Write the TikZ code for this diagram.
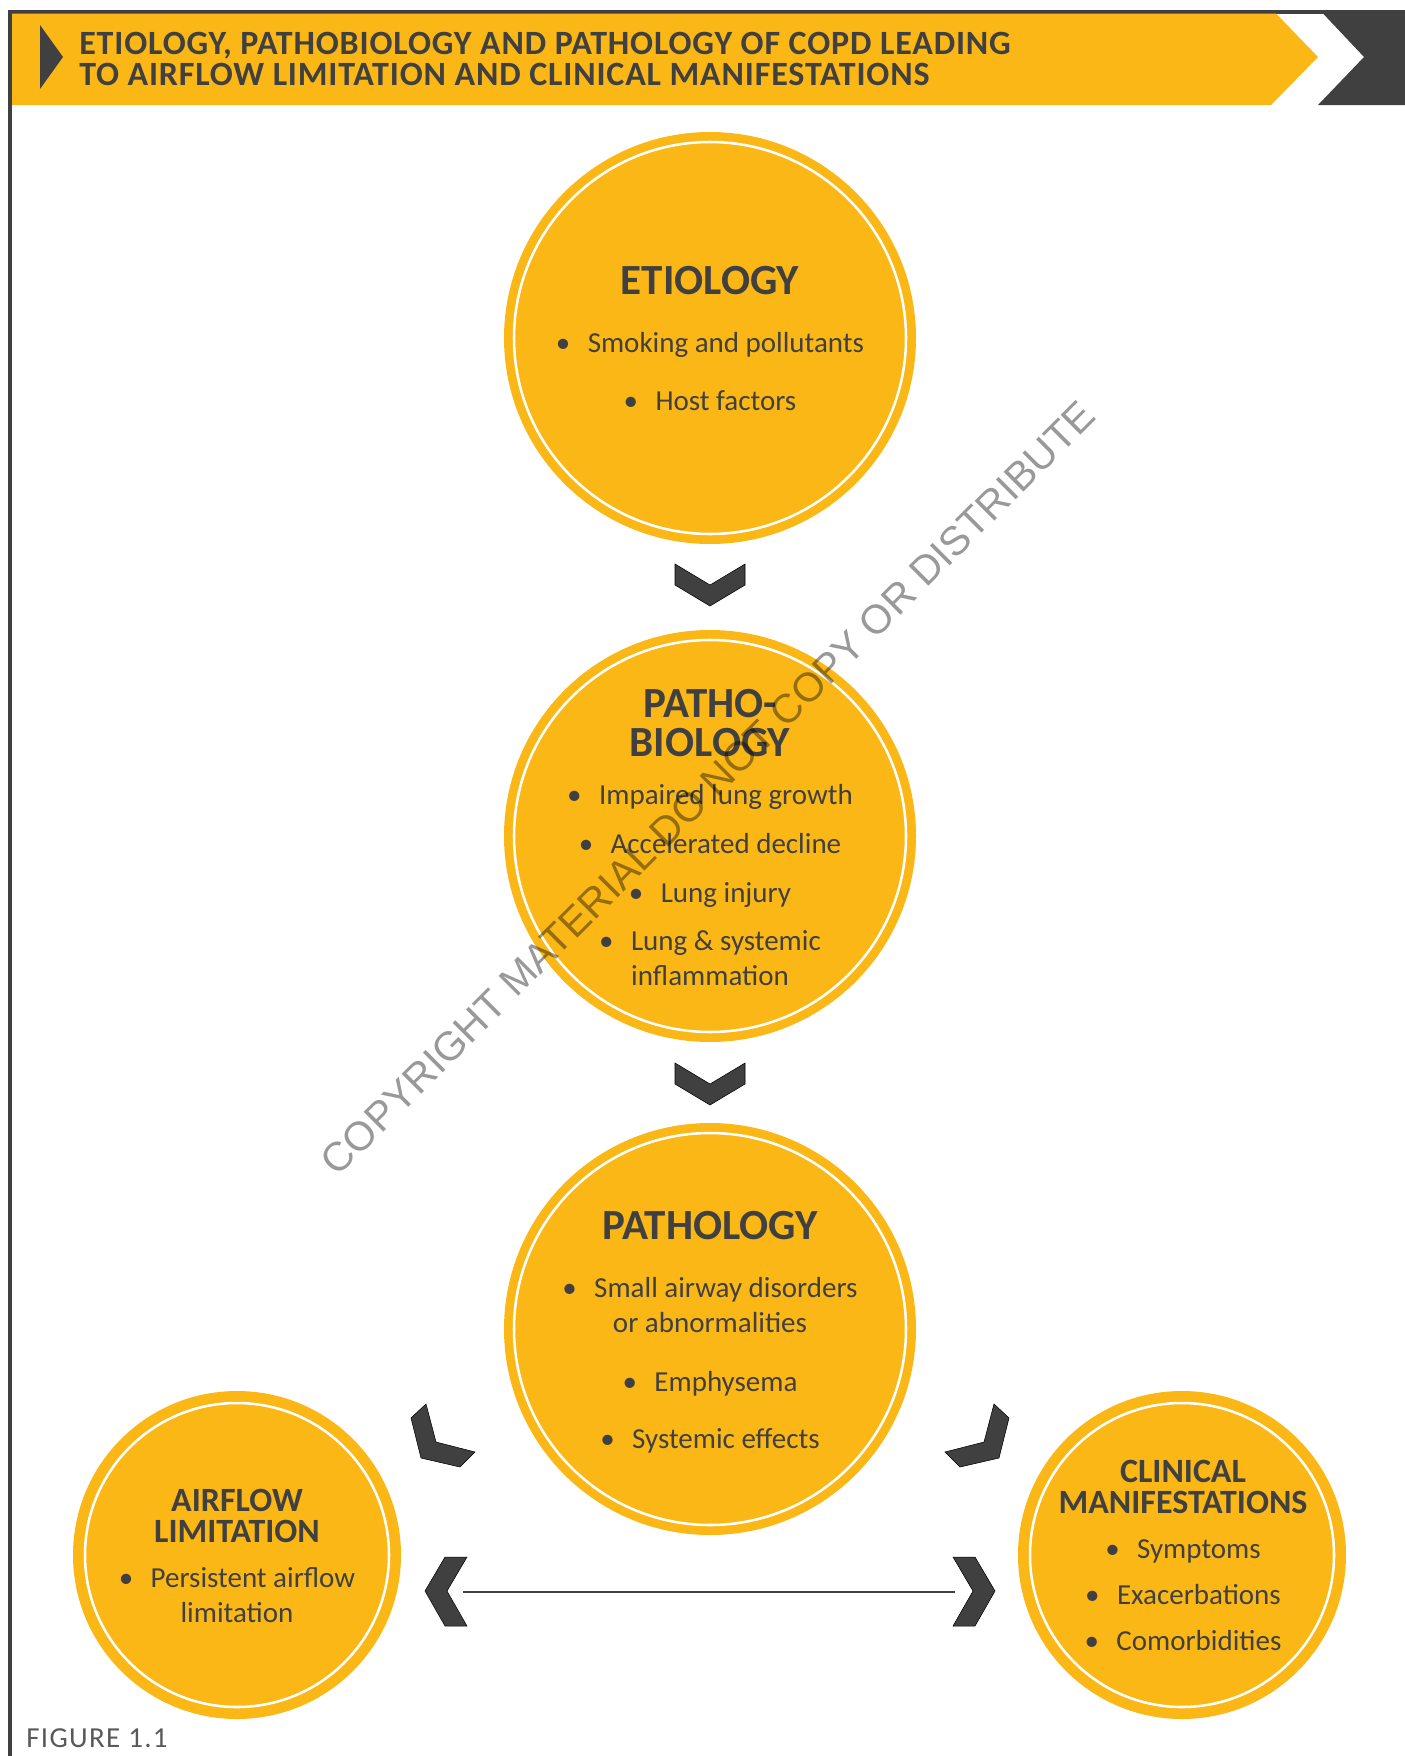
\documentclass[tikz,border=0pt]{standalone}
\usepackage{fontspec}
\setmainfont{Carlito}
\newfontfamily\markfont{Liberation Sans}
\definecolor{copdyellow}{RGB}{251,183,21}
\definecolor{copdgrey}{RGB}{64,64,64}
\definecolor{figgrey}{RGB}{89,89,89}
\begin{document}
\begin{tikzpicture}[x=0.75pt,y=0.75pt,yscale=-1,xscale=1,
  disc/.style={circle, fill=copdyellow, inner sep=0pt},
  ring/.style={draw=white, line width=1.9pt},
  chev/.style={fill=copdgrey},
  titletxt/.style={anchor=base west, inner sep=0.75pt, text=copdgrey, font=\fontsize{25.5}{25.5}\selectfont\bfseries\addfontfeature{LetterSpace=2.5}},
  headbig/.style={anchor=base, inner sep=0.75pt, text=copdgrey, font=\fontsize{32.25}{32.25}\selectfont\bfseries},
  headsmall/.style={anchor=base, inner sep=0.75pt, text=copdgrey, font=\fontsize{25.5}{25.5}\selectfont\bfseries},
  bodytxt/.style={anchor=base, inner sep=0.75pt, text=copdgrey, font=\fontsize{21.75}{21.75}\selectfont}]
\useasboundingbox (0,0) rectangle (1405,1756);

%Shape: Frame lines
\fill [copdgrey] (8,10) rectangle (1405,13.5) ;
\fill [copdgrey] (8,10) rectangle (12,1756) ;
%Shape: Banner
\fill [copdyellow] (12,13.5) -- (1276,13.5) -- (1318,57) -- (1271,105) -- (12,105) -- cycle ;
\fill [copdgrey] (1323,13.5) -- (1405,13.5) -- (1405,105) -- (1318,105) -- (1364,57) -- cycle ;
\fill [copdgrey] (40,25) -- (63,57) -- (40,89) -- cycle ;

% Text Node
\draw (78,54) node [titletxt] (title1) {ETIOLOGY, PATHOBIOLOGY AND PATHOLOGY OF COPD LEADING};
% Text Node
\draw (78,85) node [titletxt] (title2) {TO AIRFLOW LIMITATION AND CLINICAL MANIFESTATIONS};

%Shape: Circle
\node [disc, minimum size=309pt] (etio) at (710,338) {};
\draw [ring] (etio.center) circle (196) ;
%Shape: Circle
\node [disc, minimum size=309pt] (pbio) at (710,836) {};
\draw [ring] (pbio.center) circle (196) ;
%Shape: Circle
\node [disc, minimum size=309pt] (path) at (710,1329) {};
\draw [ring] (path.center) circle (196) ;
%Shape: Circle
\node [disc, minimum size=246pt] (airflow) at (237,1555) {};
\draw [ring] (airflow.center) circle (152) ;
%Shape: Circle
\node [disc, minimum size=246pt] (clinical) at (1182,1555) {};
\draw [ring] (clinical.center) circle (152) ;

%Shape: Chevrons down
\draw [chev] (675,564) -- (710,585) -- (745,564) -- (745,585) -- (710,606) -- (675,585) -- cycle ;
\draw [chev] (675,1063) -- (710,1084) -- (745,1063) -- (745,1084) -- (710,1105) -- (675,1084) -- cycle ;
%Shape: Chevrons to the sides
\draw [chev] (411,1418) -- (426,1404) -- (436,1442) -- (475,1452) -- (460,1467) -- (421,1458) -- cycle ;
\draw [chev] (1009,1418) -- (994,1404) -- (984,1442) -- (945,1452) -- (960,1467) -- (999,1458) -- cycle ;
%Straight Lines
\coordinate (arrL) at (463,1592) ;
\coordinate (arrR) at (955,1592) ;
\draw [copdgrey, line width=2pt] (arrL) -- (arrR) ;
\draw [chev] (445,1557) -- (467,1557) -- (447,1591) -- (467,1626) -- (445,1626) -- (425,1591) -- cycle ;
\draw [chev] (975,1557) -- (953,1557) -- (973,1591) -- (953,1626) -- (975,1626) -- (995,1591) -- cycle ;

% Text Node
\draw (710,294) node [headbig] (etiohead) {ETIOLOGY};
\draw (710,352) node [bodytxt] (etio1) {\textbullet\hspace{0.6em}Smoking and pollutants};
\draw (710,410) node [bodytxt] (etio2) {\textbullet\hspace{0.6em}Host factors};
% Text Node
\draw (710,717) node [headbig] (pbiohead1) {PATHO-};
\draw (710,756) node [headbig] (pbiohead2) {BIOLOGY};
\draw (710,804) node [bodytxt] (pbio1) {\textbullet\hspace{0.6em}Impaired lung growth};
\draw (710,853) node [bodytxt] (pbio2) {\textbullet\hspace{0.6em}Accelerated decline};
\draw (710,902) node [bodytxt] (pbio3) {\textbullet\hspace{0.6em}Lung injury};
\draw (710,950) node [bodytxt] (pbio4) {\textbullet\hspace{0.6em}Lung \& systemic};
\draw (710,985) node [bodytxt] (pbio5) {inflammation};
% Text Node
\draw (710,1239) node [headbig] (pathhead) {PATHOLOGY};
\draw (710,1297) node [bodytxt] (path1) {\textbullet\hspace{0.6em}Small airway disorders};
\draw (710,1332) node [bodytxt] (path2) {or abnormalities};
\draw (710,1391) node [bodytxt] (path3) {\textbullet\hspace{0.6em}Emphysema};
\draw (710,1448) node [bodytxt] (path4) {\textbullet\hspace{0.6em}Systemic effects};
% Text Node
\draw (237,1511) node [headsmall] (airhead1) {AIRFLOW};
\draw (237,1542) node [headsmall] (airhead2) {LIMITATION};
\draw (237,1587) node [bodytxt] (air1) {\textbullet\hspace{0.6em}Persistent airflow};
\draw (237,1622) node [bodytxt] (air2) {limitation};
% Text Node
\draw (1183,1482) node [headsmall] (clinhead1) {CLINICAL};
\draw (1183,1513) node [headsmall] (clinhead2) {MANIFESTATIONS};
\draw (1183,1558) node [bodytxt] (clin1) {\textbullet\hspace{0.6em}Symptoms};
\draw (1183,1604) node [bodytxt] (clin2) {\textbullet\hspace{0.6em}Exacerbations};
\draw (1183,1650) node [bodytxt] (clin3) {\textbullet\hspace{0.6em}Comorbidities};

% Text Node
\draw (25,1747) node [anchor=base west][inner sep=0.75pt] [text=figgrey, font=\fontsize{21.75}{21.75}\selectfont\addfontfeature{LetterSpace=4.6}] (figlabel) {FIGURE 1.1};
% Text Node
\draw (708,788) node [rotate=45][inner sep=0pt] [text=black, text opacity=0.4, font=\markfont\fontsize{30.5}{30.5}\selectfont] (mark) {COPYRIGHT MATERIAL DO NOT COPY OR DISTRIBUTE};

\end{tikzpicture}
\end{document}
